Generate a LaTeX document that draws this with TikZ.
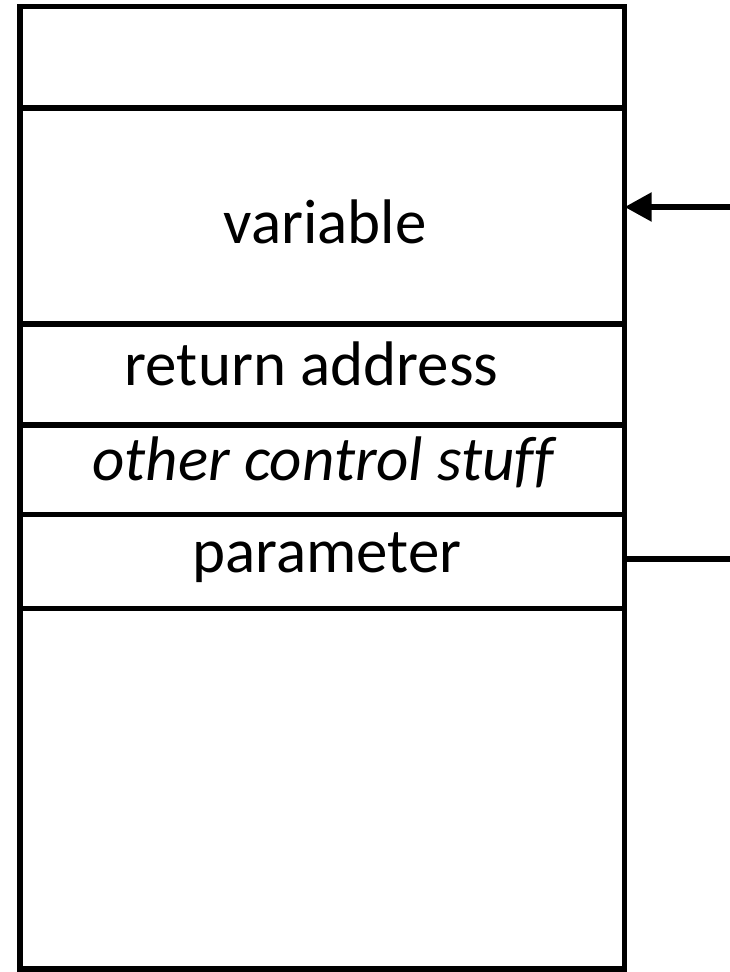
\documentclass[tikz,border=0pt]{standalone}
\usepackage{fontspec}
\setmainfont[Ligatures=NoCommon]{Carlito}
\usetikzlibrary{positioning}
\usetikzlibrary{arrows.meta}
\def\cw{6.045cm}
\def\lw{0.055cm}
\tikzset{
    cell/.style = {
        draw, rectangle, minimum width=\cw, inner sep=0pt, outer sep=0pt, line width=\lw
    },
    entry/.style = {
        anchor=base, inner sep=0pt, font=\fontsize{17.9}{21}\selectfont
    },
    pointer/.style = {
        line width=\lw, -{Triangle[length=0.27cm, width=0.28cm]}
    },
}

\begin{document}
\begin{tikzpicture}[x=0.01cm, y=-0.01cm]
    \useasboundingbox (0,0) rectangle (730,972);
    % Stack cells
    \node[cell, minimum height=1.017cm] (free) at (322.25,57.15) {};
    \node[cell, minimum height=2.16cm, below=0cm of free] (var) {};
    \node[cell, minimum height=1.01cm, below=0cm of var] (ret) {};
    \node[cell, minimum height=0.89cm, below=0cm of ret] (ctl) {};
    \node[cell, minimum height=0.94cm, below=0cm of ctl] (par) {};
    \node[cell, minimum height=3.605cm, below=0cm of par] (rest) {};
    % Cell texts
    \node[entry] (varlabel) at (325,243) {variable};
    \node[entry] (retlabel) at (311.5,385) {return address};
    \node[entry] (ctllabel) at (323,480) {\itshape other control stuff};
    \node[entry] (parlabel) at (327,572) {parameter};
    % Pointers
    \coordinate (vptr) at (730,207);
    \coordinate (pptr) at (730,559);
    \draw[pointer] (vptr) -- (var.east |- vptr);
    \draw[line width=\lw] (pptr) -- (par.east |- pptr);
\end{tikzpicture}
\end{document}
